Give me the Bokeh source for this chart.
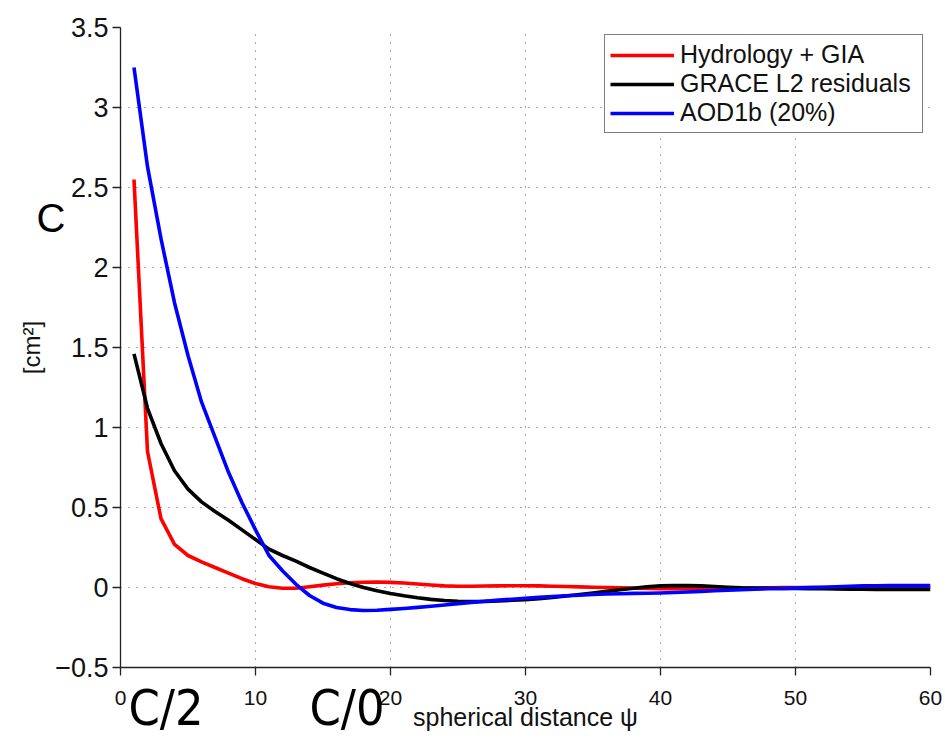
from bokeh.plotting import figure
from bokeh.models import Range1d, FixedTicker, Legend, LegendItem, LinearAxis
from bokeh.embed import file_html
from bokeh.resources import INLINE

# ---- data -------------------------------------------------------------
psi = list(range(1, 61))

hydrology_gia = [2.55, 0.85, 0.43, 0.27, 0.20, 0.16, 0.125, 0.09, 0.055, 0.025,
                 0.005, -0.005, -0.005, 0.005, 0.015, 0.023, 0.030, 0.033, 0.034, 0.032,
                 0.028, 0.022, 0.016, 0.010, 0.008, 0.008, 0.009, 0.010, 0.011, 0.011,
                 0.010, 0.008, 0.006, 0.004, 0.002, 0.000, -0.002, -0.004, -0.006, -0.008,
                 -0.008, -0.008, -0.007, -0.006, -0.005, -0.004, -0.003, -0.002, -0.001, 0.000,
                 0.000, 0.000, 0.000, 0.000, 0.000, 0.000, 0.000, 0.000, 0.000, 0.000]

grace_l2_residuals = [1.46, 1.12, 0.90, 0.73, 0.615, 0.535, 0.475, 0.42, 0.36, 0.30,
                      0.24, 0.20, 0.165, 0.125, 0.09, 0.055, 0.025, 0.000, -0.020, -0.038,
                      -0.052, -0.064, -0.074, -0.081, -0.086, -0.088, -0.087, -0.084, -0.080, -0.076,
                      -0.070, -0.062, -0.053, -0.044, -0.034, -0.024, -0.014, -0.005, 0.004, 0.010,
                      0.012, 0.012, 0.010, 0.006, 0.002, -0.002, -0.004, -0.005, -0.006, -0.006,
                      -0.007, -0.008, -0.009, -0.010, -0.011, -0.012, -0.012, -0.012, -0.012, -0.012]

aod1b_20 = [3.25, 2.63, 2.18, 1.78, 1.45, 1.16, 0.94, 0.72, 0.53, 0.36,
            0.20, 0.105, 0.020, -0.050, -0.098, -0.125, -0.138, -0.144, -0.142, -0.137,
            -0.131, -0.124, -0.117, -0.109, -0.101, -0.093, -0.086, -0.079, -0.073, -0.067,
            -0.062, -0.057, -0.052, -0.048, -0.044, -0.041, -0.039, -0.037, -0.036, -0.034,
            -0.031, -0.028, -0.024, -0.020, -0.017, -0.014, -0.011, -0.008, -0.006, -0.004,
            -0.001, 0.002, 0.005, 0.008, 0.010, 0.011, 0.012, 0.012, 0.012, 0.012]

series_names = ["Hydrology + GIA", "GRACE L2 residuals", "AOD1b (20%)"]
series_colors = ["#ff0000", "#000000", "#0000ff"]

x_ticks = [0, 10, 20, 30, 40, 50, 60]
y_ticks = [-0.5, 0, 0.5, 1, 1.5, 2, 2.5, 3, 3.5]
y_tick_labels = ["\u22120.5", "0", "0.5", "1", "1.5", "2", "2.5", "3", "3.5"]

x_title = "spherical distance \u03c8"
y_title = "[cm\u00b2]"

# stray overlay letters of the reference (text and where they sit along each axis)
overlay_left_text = ["C"]
overlay_left_at = [2.31]
overlay_below_text = ["C/2", "C/0"]
overlay_below_at = [3.37, 16.78]

FONT = "Liberation Sans"
NARROW = "DejaVu Sans Condensed, Liberation Sans Narrow, Liberation Sans, sans-serif"

# ---- figure -----------------------------------------------------------
p = figure(width=945, height=740, output_backend="svg", toolbar_location=None,
           x_range=Range1d(x_ticks[0], x_ticks[-1]), y_range=Range1d(y_ticks[0], y_ticks[-1]),
           min_border_left=120, min_border_right=15, min_border_top=27,
           min_border_bottom=73, background_fill_color="white",
           border_fill_color="white")
p.outline_line_color = None

# grids
for g in (p.xgrid, p.ygrid):
    g.grid_line_color = "#555555"
    g.grid_line_dash = "1 7"
    g.grid_line_width = 1
p.xgrid.ticker = FixedTicker(ticks=x_ticks)
p.ygrid.ticker = FixedTicker(ticks=y_ticks)

# axes
xax = p.below[0]
yax = p.left[0]
xax.ticker = FixedTicker(ticks=x_ticks)
yax.ticker = FixedTicker(ticks=y_ticks)
yax.major_label_overrides = {t: l for t, l in zip(y_ticks, y_tick_labels)}
for ax in (xax, yax):
    ax.axis_line_color = "#222222"
    ax.axis_line_width = 1.3
    ax.major_tick_line_color = "#222222"
    ax.major_tick_line_width = 1.3
    ax.major_tick_out = 8
    ax.major_tick_in = 0
    ax.minor_tick_line_color = None
    ax.major_label_text_font = FONT
    ax.axis_label_text_font = FONT
    ax.axis_label_text_font_style = "normal"
    ax.axis_label_text_color = "#111111"
    ax.major_label_text_color = "#111111"

xax.major_label_text_font_size = "21px"
xax.major_label_standoff = 15
xax.axis_label = x_title
xax.axis_label_text_font_size = "25px"
xax.axis_label_standoff = -5

yax.major_label_text_font_size = "27px"
yax.major_label_standoff = 4
yax.axis_label = y_title
yax.axis_label_text_font_size = "24px"
yax.axis_label_standoff = 7

# lines
renderers = []
for ys, c in zip([hydrology_gia, grace_l2_residuals, aod1b_20], series_colors):
    r = p.line(psi, ys, line_color=c, line_width=3.6, line_join="round")
    renderers.append(r)

legend = Legend(items=[LegendItem(label=n, renderers=[r]) for n, r in zip(series_names, renderers)],
                location="top_right")
legend.border_line_color = "black"
legend.border_line_width = 1.5
legend.background_fill_color = "white"
legend.background_fill_alpha = 1
legend.label_text_font = FONT
legend.label_text_font_size = "25px"
legend.label_text_color = "#111111"
legend.glyph_width = 64
legend.glyph_height = 26
legend.label_height = 26
legend.label_width = 237
legend.spacing = 0
legend.padding = 5
legend.margin = 7
legend.label_standoff = 6
p.add_layout(legend)


def overlay_axis(ticks, texts, font, size, standoff):
    ax = LinearAxis(ticker=FixedTicker(ticks=ticks),
                    major_label_overrides={t: s for t, s in zip(ticks, texts)})
    ax.axis_line_color = None
    ax.major_tick_line_color = None
    ax.minor_tick_line_color = None
    ax.major_tick_out = 0
    ax.major_tick_in = 0
    ax.major_label_standoff = standoff
    ax.major_label_text_font = font
    ax.major_label_text_font_size = size
    ax.major_label_text_color = "black"
    ax.major_label_orientation = "horizontal"
    return ax


p.add_layout(overlay_axis(overlay_left_at, overlay_left_text, FONT, "40px", -50), "left")
p.add_layout(overlay_axis(overlay_below_at, overlay_below_text, NARROW, "50px", -55), "below")

open("out.html", "w").write(file_html(p, INLINE))
